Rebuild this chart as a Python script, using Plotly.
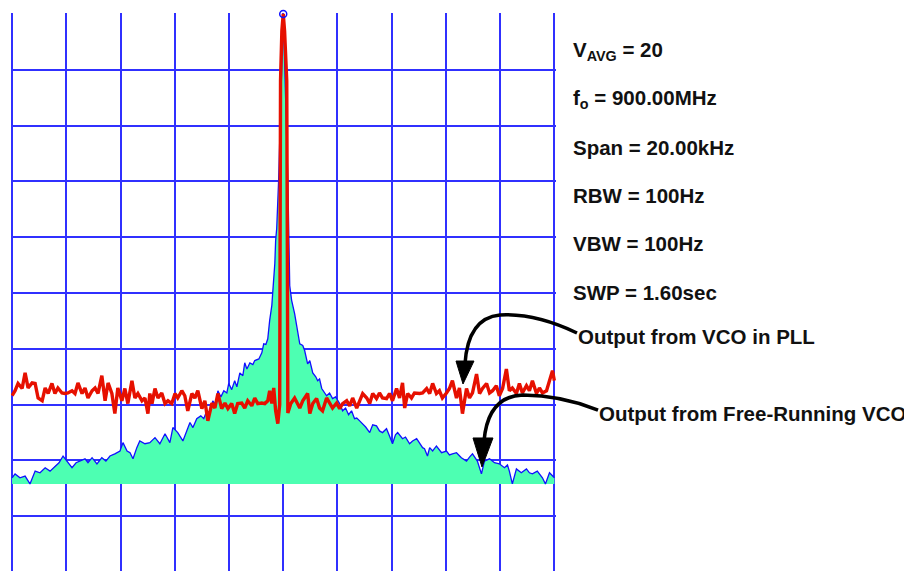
import plotly.graph_objects as go

# spectrum analyser trace, offset from carrier (kHz) vs level (dB re carrier)
pll_khz = [
    -10.00, -9.89, -9.78, -9.63, -9.52, -9.41, -9.26, -9.15, -9.04, -8.89,
    -8.78, -8.67, -8.53, -8.42, -8.31, -8.16, -8.05, -7.94, -7.79, -7.68,
    -7.57, -7.42, -7.31, -7.20, -7.05, -6.94, -6.83, -6.69, -6.57, -6.46,
    -6.32, -6.21, -6.10, -5.95, -5.84, -5.73, -5.58, -5.47, -5.36, -5.21,
    -5.10, -4.99, -4.92, -4.84, -4.73, -4.62, -4.48, -4.36, -4.25, -4.11,
    -3.99, -3.89, -3.74, -3.63, -3.52, -3.37, -3.26, -3.15, -3.00, -2.89,
    -2.78, -2.63, -2.52, -2.41, -2.27, -2.15, -2.04, -1.90, -1.79, -1.68,
    -1.53, -1.42, -1.31, -1.16, -1.05, -0.94, -0.79, -0.68, -0.57, -0.50,
    -0.42, -0.35, -0.28, -0.20,
    -0.13, -0.12, -0.10, -0.05, 0.00, 0.05, 0.13, 0.15, 0.17,
    0.28, 0.42, 0.61, 0.72, 0.90, 0.98, 1.09, 1.23, 1.34, 1.45,
    1.60, 1.71, 1.82, 1.97, 2.08, 2.19, 2.34, 2.45, 2.56, 2.71,
    2.82, 2.93, 3.08, 3.19, 3.30, 3.44, 3.55, 3.66, 3.81, 3.92,
    4.03, 4.18, 4.29, 4.40, 4.48, 4.59, 4.73, 4.84, 5.03, 5.14,
    5.29, 5.40, 5.51, 5.65, 5.76, 5.87, 6.02, 6.13, 6.24, 6.39,
    6.50, 6.61, 6.76, 6.87, 6.98, 7.13, 7.24, 7.35, 7.50, 7.61,
    7.72, 7.86, 7.97, 8.09, 8.23, 8.34, 8.45, 8.60, 8.71, 8.82,
    8.97, 9.08, 9.19, 9.34, 9.45, 9.56, 9.71, 9.82, 9.93, 10.00,
]
pll_db = [
    -68.4, -67.5, -66.2, -67.1, -64.3, -67.0, -66.1, -66.2, -68.8, -69.3,
    -67.0, -68.0, -66.2, -68.0, -67.0, -67.9, -68.0, -67.9, -67.5, -68.0,
    -66.1, -68.0, -67.0, -68.8, -67.5, -67.0, -68.0, -64.8, -69.3, -66.1,
    -68.0, -71.6, -67.0, -69.3, -67.1, -69.8, -65.7, -68.8, -68.0, -69.3,
    -68.8, -71.6, -68.0, -69.8, -67.1, -68.8, -67.9, -69.8, -69.3, -69.8,
    -68.0, -68.8, -67.5, -68.4, -71.1, -68.0, -68.8, -67.5, -70.7, -69.3,
    -72.9, -69.7, -70.6, -68.0, -70.7, -69.7, -70.7, -69.8, -71.6, -69.8,
    -69.7, -70.6, -69.3, -70.2, -68.8, -69.8, -69.7, -69.8, -69.3, -67.5,
    -69.8, -67.0, -71.1, -73.4,
    -70.0, -40.0, -12.0, -3.0, 0.0, -3.0, -12.0, -40.0, -71.5,
    -69.8, -68.8, -70.6, -69.3, -68.0, -71.6, -69.8, -68.9, -70.6, -71.1,
    -68.8, -69.8, -70.6, -69.7, -70.7, -69.8, -69.3, -70.2, -68.8, -70.6,
    -69.3, -68.0, -68.8, -69.8, -68.0, -68.9, -67.9, -68.8, -68.9, -68.0,
    -69.3, -67.1, -68.8, -66.1, -70.6, -68.0, -68.8, -67.9, -68.0, -67.9,
    -67.1, -68.0, -66.2, -68.0, -67.5, -68.8, -67.9, -67.1, -65.7, -68.8,
    -67.0, -71.6, -67.1, -68.8, -67.9, -64.5, -68.0, -67.1, -66.2, -67.9,
    -67.5, -66.6, -68.4, -67.1, -63.6, -67.5, -67.0, -68.0, -66.2, -67.9,
    -66.6, -67.5, -65.7, -68.0, -67.0, -67.9, -67.5, -65.7, -63.9, -65.7,
]

free_khz = [
    -10.00, -9.89, -9.71, -9.52, -9.34, -9.15, -8.97, -8.78, -8.60, -8.42,
    -8.27, -8.12, -7.97, -7.79, -7.64, -7.50, -7.31, -7.20, -7.05, -6.87,
    -6.69, -6.54, -6.39, -6.21, -6.02, -5.91, -5.76, -5.65, -5.54, -5.40,
    -5.29, -5.10, -4.92, -4.73, -4.55, -4.36, -4.18, -4.07, -3.89, -3.70,
    -3.55, -3.44, -3.33, -3.19, -3.04, -2.93, -2.82, -2.71, -2.60, -2.49,
    -2.41, -2.30, -2.19, -2.08, -2.01, -1.90, -1.79, -1.71, -1.60, -1.49,
    -1.42, -1.34, -1.23, -1.12, -1.05, -0.90, -0.79, -0.72, -0.64, -0.57,
    -0.50, -0.42, -0.39, -0.35, -0.31, -0.28, -0.24, -0.17, -0.09, 0.00,
    0.09, 0.17, 0.24, 0.31, 0.42, 0.50, 0.61, 0.72, 0.79, 0.90,
    0.98, 1.09, 1.20, 1.27, 1.34, 1.42, 1.53, 1.60, 1.71, 1.82,
    1.93, 2.08, 2.19, 2.30, 2.41, 2.52, 2.63, 2.71, 2.82, 2.89,
    3.04, 3.19, 3.30, 3.44, 3.55, 3.66, 3.81, 3.92, 4.03, 4.14,
    4.22, 4.40, 4.51, 4.66, 4.77, 4.92, 5.03, 5.14, 5.21, 5.32,
    5.40, 5.51, 5.65, 5.84, 6.02, 6.13, 6.24, 6.39, 6.57, 6.76,
    6.87, 6.98, 7.16, 7.31, 7.42, 7.61, 7.79, 7.97, 8.16, 8.27,
    8.34, 8.45, 8.60, 8.78, 8.97, 9.08, 9.19, 9.37, 9.56, 9.67,
    9.82, 10.00,
]
free_db = [
    -83.1, -82.4, -83.1, -82.8, -84.2, -81.9, -82.2, -81.3, -81.9, -81.0,
    -80.4, -79.2, -80.1, -81.3, -80.4, -80.1, -79.7, -80.4, -79.5, -80.6,
    -79.5, -80.1, -79.2, -78.8, -78.3, -76.8, -78.3, -78.6, -79.7, -77.7,
    -76.5, -77.0, -76.8, -75.9, -77.0, -75.2, -76.8, -74.1, -75.0, -76.5,
    -74.7, -73.2, -74.1, -72.5, -72.0, -72.5, -71.1, -71.5, -69.3, -70.0,
    -67.5, -68.6, -67.5, -67.9, -66.2, -67.3, -65.7, -66.8, -64.3, -64.8,
    -62.5, -63.6, -62.5, -62.8, -62.1, -61.8, -60.7, -59.1, -59.2, -58.2,
    -54.9, -52.2, -50.1, -47.4, -44.7, -40.6, -38.4, -29.8, -15.4, 0.0,
    -15.4, -29.8, -48.7, -51.3, -53.7, -56.2, -59.1, -59.4, -60.3, -62.7,
    -62.1, -64.3, -65.0, -65.7, -65.4, -67.1, -67.9, -68.4, -67.9, -68.9,
    -68.6, -69.8, -71.1, -70.6, -71.8, -71.1, -72.5, -72.4, -72.9, -73.2,
    -74.0, -75.0, -73.6, -73.8, -74.7, -75.0, -74.3, -75.6, -77.0, -75.4,
    -75.0, -76.1, -75.8, -77.0, -76.5, -76.1, -77.0, -77.7, -77.9, -79.2,
    -77.7, -78.3, -77.4, -78.6, -78.3, -79.0, -78.8, -78.6, -79.5, -80.1,
    -79.4, -78.8, -80.1, -82.4, -80.1, -79.7, -80.4, -80.6, -81.3, -80.8,
    -81.9, -84.2, -81.5, -82.2, -81.5, -82.2, -82.4, -81.9, -83.1, -84.2,
    -82.2, -83.1,
]
fill_floor_db = -84.2

marker_khz = [0.0]
marker_db = [0.0]

settings = [
    "V<sub>AVG</sub> = 20",
    "f<sub>o</sub> = 900.00MHz",
    "Span = 20.00kHz",
    "RBW = 100Hz",
    "VBW = 100Hz",
    "SWP = 1.60sec",
]
label_pll = "Output from VCO in PLL"
label_free = "Output from Free-Running VCO"

# the page body adds an 8px offset, so work in page pixels and subtract it
OFF = 8
W, H = 912, 571
L, T = 11 - OFF, 13 - OFF
PW, PH = 545, 558
R = W - L - PW
B = H - T - PH


def px(x):
    return (x - OFF - L) / PW


def py(y):
    return (T + PH - (y - OFF)) / PH


fig = go.Figure()

# mint area under the free-running trace
fig.add_trace(go.Scatter(
    x=free_khz + [free_khz[-1], free_khz[0]],
    y=free_db + [fill_floor_db, fill_floor_db],
    fill="toself", fillcolor="#4dffb2", mode="none", hoverinfo="skip",
))
fig.add_trace(go.Scatter(
    x=free_khz, y=free_db, mode="lines",
    line=dict(color="#1010ff", width=1.3),
))
fig.add_trace(go.Scatter(
    x=pll_khz, y=pll_db, mode="lines",
    line=dict(color="#e61000", width=3.4),
))
fig.add_trace(go.Scatter(
    x=marker_khz, y=marker_db, mode="markers", cliponaxis=False,
    marker=dict(size=7, color="rgba(0,0,0,0)", line=dict(color="#1010ff", width=1.5)),
))

font = dict(family="Liberation Sans, Arial, sans-serif", size=20.5, color="#111111")
annotations = []
for i, s in enumerate(settings):
    annotations.append(dict(
        x=px(571), y=py(51 + i * 48.2), xref="paper", yref="paper",
        text=f"<b>{s}</b>", showarrow=False, xanchor="left", yanchor="middle", font=font,
    ))
annotations.append(dict(x=px(576), y=py(336), xref="paper", yref="paper",
                        text=f"<b>{label_pll}</b>", showarrow=False,
                        xanchor="left", yanchor="middle", font=font))
annotations.append(dict(x=px(597), y=py(413), xref="paper", yref="paper",
                        text=f"<b>{label_free}</b>", showarrow=False,
                        xanchor="left", yanchor="middle", font=font))


# curved call-out arrows (paper coordinates)
def curve(p0, c1, p1, c2, p2):
    return (f"M{px(p0[0]):.4f},{py(p0[1]):.4f} "
            f"Q{px(c1[0]):.4f},{py(c1[1]):.4f} {px(p1[0]):.4f},{py(p1[1]):.4f} "
            f"Q{px(c2[0]):.4f},{py(c2[1]):.4f} {px(p2[0]):.4f},{py(p2[1]):.4f}")


def head(a, b, c):
    return (f"M{px(a[0]):.4f},{py(a[1]):.4f} L{px(b[0]):.4f},{py(b[1]):.4f} "
            f"L{px(c[0]):.4f},{py(c[1]):.4f} Z")


shapes = [
    dict(type="path", xref="paper", yref="paper",
         path=curve((577, 333), (535, 313), (500, 315), (468, 318), (465, 364)),
         line=dict(color="black", width=3.5)),
    dict(type="path", xref="paper", yref="paper",
         path=head((456, 361), (474, 361), (463, 384)),
         fillcolor="black", line=dict(color="black", width=1)),
    dict(type="path", xref="paper", yref="paper",
         path=curve((598, 410), (560, 395), (523, 395), (488, 396), (484, 441)),
         line=dict(color="black", width=3.5)),
    dict(type="path", xref="paper", yref="paper",
         path=head((473, 438), (493, 438), (482, 467)),
         fillcolor="black", line=dict(color="black", width=1)),
]

grid = dict(showgrid=True, gridcolor="#3030ff", gridwidth=1.5, zeroline=False,
            showticklabels=False, ticks="", showline=False)

fig.update_layout(
    width=W, height=H,
    margin=dict(l=L, r=R, t=T, b=B, pad=0),
    paper_bgcolor="white", plot_bgcolor="white",
    showlegend=False,
    xaxis=dict(range=[-10.04, 10.06], tick0=-10, dtick=2, **grid),
    yaxis=dict(range=[-99.8, 0.18], tick0=0, dtick=10, **grid),
    annotations=annotations,
    shapes=shapes,
)

fig.write_html("out.html")
